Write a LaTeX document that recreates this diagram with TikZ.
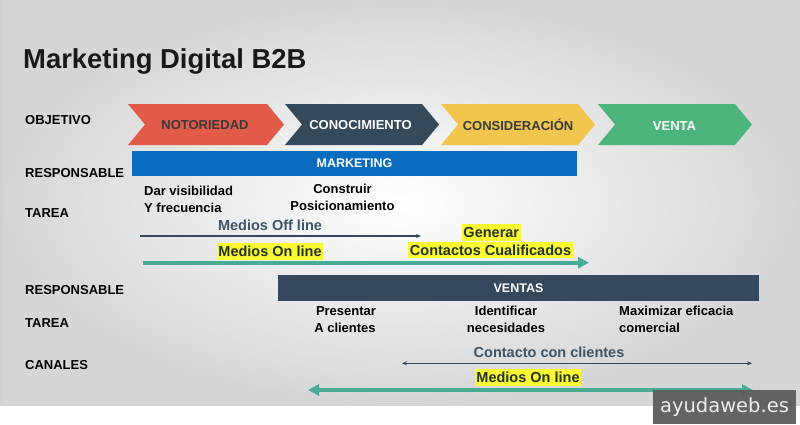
\documentclass[tikz,border=0pt]{standalone}
\usepackage{fontspec}
\setmainfont{Liberation Sans}
\newfontfamily\wmfont{DejaVu Sans}
\usetikzlibrary{arrows.meta}
\definecolor{cRed}{HTML}{E25A48}
\definecolor{cDark}{HTML}{34495A}
\definecolor{cYellow}{HTML}{F0C64E}
\definecolor{cGreen}{HTML}{4DB47C}
\definecolor{cBlue}{HTML}{0A6CBF}
\definecolor{cSlate}{HTML}{34495E}
\definecolor{cSlateTxt}{HTML}{3D5568}
\definecolor{cTeal}{HTML}{4AAB94}
\definecolor{cHl}{HTML}{FAFA32}
\definecolor{cHlTxt}{HTML}{263322}
\definecolor{cChevTxt}{HTML}{3A3A3A}
\definecolor{cWm}{HTML}{5C5C5C}
\definecolor{cBgOut}{HTML}{D6D6D6}
\begin{document}
\begin{tikzpicture}[x=1pt,y=-1pt,
  lbl/.style={anchor=base west, inner sep=0pt, text=black, font=\bfseries\fontsize{13}{15}\selectfont},
  chevtxt/.style={anchor=base, inner sep=0pt, font=\bfseries\fontsize{13}{15}\selectfont},
  tasktxt/.style={inner sep=0pt, text=black, font=\bfseries\fontsize{13}{15}\selectfont},
  chantxt/.style={anchor=base, inner sep=0pt, text=cSlateTxt, font=\bfseries\fontsize{14.5}{17}\selectfont},
  hl/.style={anchor=base, fill=cHl, text=cHlTxt, inner xsep=1.5pt, inner ysep=1.3pt, text height=12pt, text depth=2pt, font=\bfseries\fontsize{14.5}{17}\selectfont},
  bar/.style={inner sep=0pt, text=white, text height=9.3pt, text depth=0pt, font=\bfseries\fontsize{12.5}{15}\selectfont},
  thinarrow/.style={draw=cSlate, line width=1.1pt},
  tealarrow/.style={draw=cTeal, line width=4pt},
  thintip/.tip={Stealth[length=5pt,width=4pt]},
  tealtip/.tip={Triangle[length=11pt,width=11pt]}
]
\useasboundingbox (0,0) rectangle (800,424);
\fill[white] (0,0) rectangle (800,424);
\shade[inner color=white, outer color=cBgOut] (0,0) rectangle (800,405);
\fill[black!18] (0,0) rectangle (3,405);

% title
\node[anchor=base west, inner sep=0pt, text=black!90, font=\bfseries\fontsize{27.4}{32}\selectfont] (title) at (23,68) {Marketing Digital B2B};

% row labels
\node[lbl] (l1) at (25,124) {OBJETIVO};
\node[lbl] (l2) at (25,177) {RESPONSABLE};
\node[lbl] (l3) at (25,217) {TAREA};
\node[lbl] (l4) at (25,294) {RESPONSABLE};
\node[lbl] (l5) at (25,327) {TAREA};
\node[lbl] (l6) at (25,369) {CANALES};

% chevrons
\fill[cRed] (128,104) -- (267,104) -- (284,124.5) -- (267,145) -- (128,145) -- (145,124.5) -- cycle;
\fill[cDark] (285,104) -- (422,104) -- (439,124.5) -- (422,145) -- (285,145) -- (302,124.5) -- cycle;
\fill[cYellow] (441,104) -- (578,104) -- (595,124.5) -- (578,145) -- (441,145) -- (458,124.5) -- cycle;
\fill[cGreen] (598,104) -- (735,104) -- (752,124.5) -- (735,145) -- (598,145) -- (615,124.5) -- cycle;
\node[chevtxt, text=cChevTxt] (ob1) at (205,129) {NOTORIEDAD};
\node[chevtxt, text=white] (ob2) at (360.5,129.5) {CONOCIMIENTO};
\node[chevtxt, text=cChevTxt] (ob3) at (518,130) {CONSIDERACIÓN};
\node[chevtxt, text=white] (ob4) at (674.5,130) {VENTA};

% marketing bar
\node[bar, fill=cBlue, minimum width=445.5pt, minimum height=25pt] (mkt) at (354.5,163.2) {MARKETING};

% marketing tasks
\node[tasktxt, anchor=base west] (t1a) at (144,195) {Dar visibilidad};
\node[tasktxt, anchor=base west] (t1b) at (144,212) {Y frecuencia};
\node[tasktxt, anchor=base] (t2a) at (342.5,193) {Construir};
\node[tasktxt, anchor=base] (t2b) at (342.5,210) {Posicionamiento};

% marketing channels
\node[chantxt] (off) at (270,230) {Medios Off line};
\coordinate (offL) at (140,236);
\coordinate (offR) at (421,236);
\draw[thinarrow, -thintip] (offL) -- (offR);
\node[hl] (on1) at (270,256.6) {Medios On line};
\coordinate (onL) at (143,262.7);
\coordinate (onR) at (589,262.7);
\draw[tealarrow, -tealtip] (onL) -- (onR);
\node[hl] (gen1) at (491.3,237.3) {Generar};
\node[hl] (gen2) at (490.5,255) {Contactos Cualificados};

% ventas bar
\node[bar, fill=cSlate, minimum width=481.6pt, minimum height=25.7pt] (vts) at (518.5,288.2) {VENTAS};

% ventas tasks
\node[tasktxt, anchor=base] (t3a) at (346,315) {Presentar};
\node[tasktxt, anchor=base] (t3b) at (345,332) {A clientes};
\node[tasktxt, anchor=base] (t4a) at (506,315) {Identificar};
\node[tasktxt, anchor=base] (t4b) at (506,332) {necesidades};
\node[tasktxt, anchor=base west] (t5a) at (619,315) {Maximizar eficacia};
\node[tasktxt, anchor=base west] (t5b) at (619,332) {comercial};

% ventas channels
\node[chantxt] (cc) at (549,357) {Contacto con clientes};
\coordinate (ccL) at (402,363.3);
\coordinate (ccR) at (752,363.3);
\draw[thinarrow, line width=0.9pt, thintip-thintip] (ccL) -- (ccR);
\node[hl] (on2) at (528,382.7) {Medios On line};
\coordinate (on2L) at (308,390);
\coordinate (on2R) at (753,390);
\draw[tealarrow, tealtip-tealtip] (on2L) -- (on2R);

% watermark
\fill[cWm, opacity=0.95] (653,390) rectangle (796,424);
\node[anchor=base, inner sep=0pt, text=white!93!black, font=\wmfont\fontsize{19.5}{22}\selectfont] (wm) at (724.5,412) {ayudaweb.es};
\end{tikzpicture}
\end{document}
